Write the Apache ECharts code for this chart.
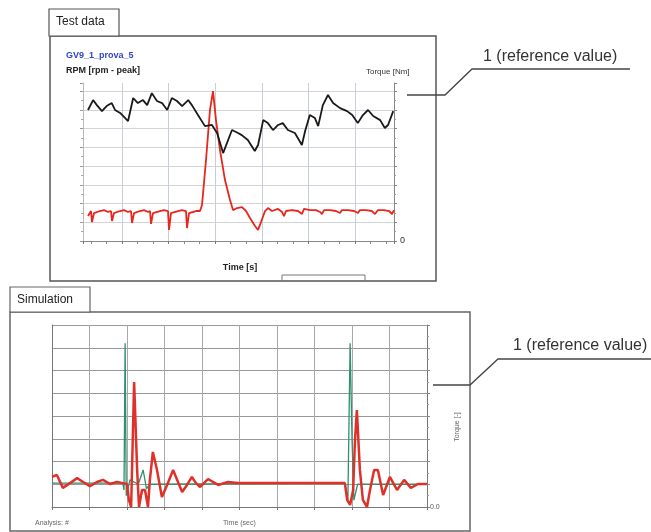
<!DOCTYPE html>
<html>
<head>
<meta charset="utf-8">
<script src="https://cdn.jsdelivr.net/npm/echarts@6/dist/echarts.min.js"></script>
<style>
html, body { margin: 0; padding: 0; background: #fff; }
#main { width: 651px; height: 532px; }
</style>
</head>
<body>
<div id="main"></div>
<script>
// Test data panel: time [s], RPM and torque in chart units
var rpmTime = [0.27,0.38,0.46,0.57,0.67,0.78,0.85,0.96,1.13,1.24,1.34,1.45,1.54,1.64,1.75,1.86,1.97,2.07,2.18,2.29,2.42,2.50,2.63,2.78,2.93,3.04,3.17,3.36,3.49,3.57,3.70,3.85,3.92,4.03,4.13,4.24,4.35,4.45,4.56,4.71,4.86,4.93,5.03,5.14,5.21,5.31,5.42,5.53,5.68,5.83,5.94,6.06,6.17,6.28,6.39,6.54,6.64,6.71,6.82];
var rpmValues = [6.99,7.52,7.25,6.93,7.20,7.36,6.99,6.83,6.40,7.63,7.36,7.52,7.25,7.89,7.47,7.36,6.99,7.63,7.47,7.20,7.52,7.25,6.72,6.13,6.19,5.76,4.69,5.92,5.76,5.65,5.39,4.80,5.12,6.45,6.29,5.92,6.19,6.29,5.92,5.76,5.12,5.87,6.72,6.56,6.13,7.25,7.79,7.36,7.09,6.93,6.72,6.29,6.72,6.99,6.67,6.45,6.03,6.19,6.93];

var torqueTime = [0.27,0.335,0.356,0.399,0.528,0.614,0.70,0.764,0.785,0.828,0.957,1.043,1.129,1.193,1.215,1.258,1.386,1.472,1.558,1.601,1.623,1.665,1.815,1.901,1.987,2.009,2.051,2.202,2.287,2.373,2.395,2.438,2.588,2.674,2.717,2.803,2.888,2.953,3.017,3.103,3.21,3.318,3.382,3.468,3.575,3.661,3.747,3.854,3.919,3.983,4.069,4.133,4.219,4.348,4.434,4.477,4.519,4.648,4.777,4.863,4.906,5.034,5.163,5.249,5.292,5.335,5.464,5.592,5.678,5.721,5.85,5.978,6.064,6.107,6.236,6.365,6.429,6.493,6.622,6.729,6.794,6.837];
var torqueValues = [1.33,1.60,1.01,1.49,1.60,1.65,1.55,1.60,1.07,1.49,1.60,1.65,1.55,1.60,0.96,1.49,1.60,1.65,1.55,1.60,0.91,1.49,1.60,1.65,1.60,0.59,1.49,1.60,1.65,1.60,0.69,1.49,1.60,1.60,1.92,4.32,6.99,8.00,6.45,4.85,3.25,2.19,1.65,1.76,1.81,1.60,1.23,0.80,0.59,1.01,1.60,1.76,1.60,1.71,1.55,1.33,1.60,1.65,1.60,1.44,1.71,1.65,1.65,1.55,1.44,1.65,1.65,1.60,1.49,1.65,1.65,1.60,1.49,1.65,1.65,1.60,1.44,1.65,1.65,1.60,1.44,1.65];

// Simulation panel
var simTime = [0.00,0.13,0.29,0.48,0.67,0.83,1.01,1.20,1.36,1.55,1.73,1.89,2.00,2.05,2.11,2.19,2.27,2.32,2.40,2.48,2.56,2.61,2.69,2.80,2.93,3.07,3.23,3.36,3.47,3.60,3.73,3.84,3.95,4.16,4.43,4.69,4.96,5.55,6.35,7.15,7.81,7.87,7.95,8.03,8.08,8.13,8.21,8.29,8.40,8.48,8.59,8.69,8.83,9.01,9.20,9.39,9.57,9.76,10.0];
var simRed = [1.32,1.41,0.84,1.05,1.27,1.10,0.92,1.10,1.19,1.01,1.10,1.05,1.01,0.31,0,5.49,1.63,0,0.75,0.75,0,1.19,2.42,1.63,0.44,0.97,1.63,1.10,0.66,0.97,1.32,1.05,0.88,1.23,0.97,1.10,1.05,1.05,1.05,1.05,1.05,0.31,0.09,0.75,2.95,4.26,1.63,0.31,0,0.75,1.63,1.63,0.53,1.32,0.75,1.19,0.84,1.01,1.01];

var greenTime = [0,1.89,1.92,1.95,1.98,2.08,2.30,2.43,2.52,2.60,7.81,7.89,7.95,8.00,8.05,8.15,10];
var greenValues = [1.05,1.05,0.75,7.2,0.5,1.19,1.0,1.63,0.8,1.0,1.05,0.31,7.2,3.0,0.3,1.0,1.0];

var testRightLabel = '0';
var simRightLabel = '0.0';

function zip(xs, ys) {
  return xs.map(function (x, i) { return [x, ys[i]]; });
}

var chart = echarts.init(document.getElementById('main'));
var font = 'Liberation Sans';

chart.setOption({
  animation: false,
  textStyle: { fontFamily: font },
  grid: [
    { left: 83, top: 83, right: 257, bottom: 291 },
    { left: 52, top: 325, right: 224, bottom: 25 }
  ],
  xAxis: [
    {
      type: 'value', gridIndex: 0, min: 0.163, max: 6.837, splitNumber: 6,
      axisLabel: { show: false },
      axisLine: { lineStyle: { color: '#8a8a8a' } },
      axisTick: { show: true, length: 3, lineStyle: { color: '#777' } },
      minorTick: { show: true, splitNumber: 3, length: 3, lineStyle: { color: '#888' } },
      splitLine: { show: true, showMinLine: false, showMaxLine: false, lineStyle: { color: '#c6cedb' } }
    },
    {
      type: 'value', gridIndex: 1, min: 0, max: 10, interval: 1,
      axisLabel: { show: false },
      axisLine: { lineStyle: { color: '#777' } },
      axisTick: { show: true, length: 3, lineStyle: { color: '#777' } },
      splitLine: { show: true, lineStyle: { color: '#a8a8a8' } }
    }
  ],
  yAxis: [
    {
      type: 'value', gridIndex: 0, min: 0, max: 8.43, splitNumber: 8,
      axisLabel: { show: false },
      axisLine: { show: true, lineStyle: { color: '#bbb' } },
      axisTick: { show: true, length: 3, lineStyle: { color: '#999' } },
      minorTick: { show: true, splitNumber: 2, length: 2, lineStyle: { color: '#aaa' } },
      splitLine: { show: true, showMaxLine: false, lineStyle: { color: '#d4d4d4' } }
    },
    {
      type: 'value', gridIndex: 0, position: 'right', min: 0, max: 8.43, splitNumber: 8,
      axisLine: { show: true, lineStyle: { color: '#888' } },
      axisTick: { show: true, length: 3, lineStyle: { color: '#888' } },
      minorTick: { show: true, splitNumber: 2, length: 2, lineStyle: { color: '#999' } },
      splitLine: { show: false },
      axisLabel: {
        margin: 6, fontSize: 9, color: '#333',
        formatter: function (v) { return v === 0 ? testRightLabel : ''; }
      }
    },
    {
      type: 'value', gridIndex: 1, min: 0, max: 8, interval: 1,
      axisLabel: { show: false },
      axisLine: { show: true, lineStyle: { color: '#777' } },
      axisTick: { show: false },
      splitLine: { show: true, lineStyle: { color: '#999' } }
    },
    {
      type: 'value', gridIndex: 1, position: 'right', min: 0, max: 8, interval: 1,
      axisLine: { show: true, lineStyle: { color: '#777' } },
      axisTick: { show: true, length: 3, lineStyle: { color: '#888' } },
      minorTick: { show: true, splitNumber: 2, length: 2, lineStyle: { color: '#999' } },
      splitLine: { show: false },
      axisLabel: {
        margin: 3, fontSize: 7, color: '#555',
        formatter: function (v) { return v === 0 ? simRightLabel : ''; }
      }
    }
  ],
  series: [
    {
      type: 'line', xAxisIndex: 0, yAxisIndex: 0, showSymbol: false,
      data: zip(torqueTime, torqueValues),
      lineStyle: { color: '#e8261e', width: 1.8 }
    },
    {
      type: 'line', xAxisIndex: 0, yAxisIndex: 0, showSymbol: false,
      data: zip(rpmTime, rpmValues),
      lineStyle: { color: '#1a1a1a', width: 1.8 }
    },
    {
      type: 'line', xAxisIndex: 1, yAxisIndex: 2, showSymbol: false,
      data: zip(greenTime, greenValues),
      lineStyle: { color: '#2f8f6f', width: 1.3 }
    },
    {
      type: 'line', xAxisIndex: 1, yAxisIndex: 2, showSymbol: false,
      data: zip(simTime, simRed),
      lineStyle: { color: '#e0302a', width: 2.5 }
    }
  ],
  graphic: [
    // test data panel
    { type: 'rect', shape: { x: 50, y: 36, width: 386, height: 245 }, style: { fill: 'none', stroke: '#555', lineWidth: 1.5 } },
    { type: 'rect', shape: { x: 49, y: 9, width: 70, height: 27 }, style: { fill: '#fff', stroke: '#555', lineWidth: 1.2 } },
    { type: 'text', x: 56, y: 22, style: { text: 'Test data', font: '12px ' + font, fill: '#222', verticalAlign: 'middle' } },
    { type: 'text', x: 66, y: 56, style: { text: 'GV9_1_prova_5', font: 'bold 9px ' + font, fill: '#3344cc', verticalAlign: 'middle' } },
    { type: 'text', x: 66, y: 71, style: { text: 'RPM [rpm - peak]', font: 'bold 9px ' + font, fill: '#222', verticalAlign: 'middle' } },
    { type: 'text', x: 366, y: 72, style: { text: 'Torque [Nm]', font: '8px ' + font, fill: '#333', verticalAlign: 'middle' } },
    { type: 'text', x: 240, y: 268, style: { text: 'Time [s]', font: 'bold 9px ' + font, fill: '#222', align: 'center', verticalAlign: 'middle' } },
    { type: 'polyline', shape: { points: [[282, 281], [282, 275], [365, 275], [365, 281]] }, style: { stroke: '#777', lineWidth: 1, fill: 'none' } },
    // simulation panel
    { type: 'rect', shape: { x: 10, y: 312, width: 460, height: 219 }, style: { fill: 'none', stroke: '#666', lineWidth: 1.5 } },
    { type: 'rect', shape: { x: 10, y: 287, width: 80, height: 25 }, style: { fill: '#fff', stroke: '#666', lineWidth: 1.2 } },
    { type: 'text', x: 17, y: 300, style: { text: 'Simulation', font: '12px ' + font, fill: '#222', verticalAlign: 'middle' } },
    { type: 'text', x: 35, y: 523, style: { text: 'Analysis: #', font: '7px ' + font, fill: '#666', verticalAlign: 'middle' } },
    { type: 'text', x: 223, y: 523, style: { text: 'Time (sec)', font: '7px ' + font, fill: '#666', verticalAlign: 'middle' } },
    { type: 'text', x: 457, y: 427, rotation: Math.PI / 2, style: { text: 'Torque [-]', font: '7px ' + font, fill: '#666', align: 'center', verticalAlign: 'middle' } },
    // reference value callouts
    { type: 'polyline', shape: { points: [[407, 95], [445, 95], [472, 69], [630, 69]] }, style: { stroke: '#444', lineWidth: 1.3, fill: 'none' } },
    { type: 'text', x: 483, y: 57, style: { text: '1 (reference value)', font: '16px ' + font, fill: '#333', verticalAlign: 'middle' } },
    { type: 'polyline', shape: { points: [[433, 385], [470, 385], [498, 359], [651, 359]] }, style: { stroke: '#444', lineWidth: 1.3, fill: 'none' } },
    { type: 'text', x: 513, y: 346, style: { text: '1 (reference value)', font: '16px ' + font, fill: '#333', verticalAlign: 'middle' } }
  ]
});
</script>
</body>
</html>
